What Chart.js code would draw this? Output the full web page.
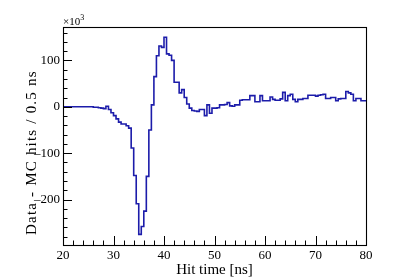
<!DOCTYPE html>
<html>
<head>
<meta charset="utf-8">
<script src="https://cdn.jsdelivr.net/npm/chart.js@4"></script>
<style>
  html, body { margin: 0; padding: 0; background: #fff; }
  #wrap { width: 407px; height: 279px; }
</style>
</head>
<body>
<div id="wrap"><canvas id="c" width="407" height="279"></canvas></div>
<script>
// Histogram: Data - MC hits per 0.5 ns bin (values in units of 10^3)
const binLow = 20;
const binWidth = 0.5;
const values = [
  0, 0, 0, 0, 0, 0, 0, 0, 0, 0,
  0, 0, 0, -1, -1, -2, -3, -4, 1, -6,
  -13, -19, -26, -33, -37, -37, -41, -46, -89, -148,
  -209, -275, -258, -225, -150, -50, 4, 65, 110, 131,
  128, 150, 114, 111, 100, 53, 53, 30, 37, 20,
  6, -3, -8, -9, -10, -6, -6, -19, 4, -14,
  -3, -3, -2, 4, 4, 5, 9, 2, 1, 4,
  4, 14, 15, 15, 15, 24, 24, 11, 11, 24,
  13, 13, 13, 21, 16, 14, 14, 17, 31, 13,
  24, 27, 16, 11, 16, 16, 18, 18, 25, 25,
  25, 23, 25, 26, 27, 18, 18, 20, 20, 13,
  17, 18, 18, 33, 30, 27, 13, 18, 18, 13
];
const xTickLabels = [20, 30, 40, 50, 60, 70, 80];
const yTickLabels = [-200, -100, 0, 100];
const xTitle = 'Hit time [ns]';
const yTitle = 'Data - MC hits / 0.5 ns';

const points = values.map((v, i) => ({ x: binLow + i * binWidth, y: v }));
points.push({ x: binLow + values.length * binWidth, y: values[values.length - 1] });

const serif = '"Liberation Serif", "DejaVu Serif", serif';

const rootStyle = {
  id: 'rootStyle',
  afterDraw(chart) {
    const { ctx, chartArea: a, scales: { x, y } } = chart;
    ctx.save();
    ctx.strokeStyle = '#000';
    ctx.lineWidth = 1;
    // inward ticks
    ctx.beginPath();
    for (let v = 20; v <= 80; v += 2) {
      const px = Math.round(x.getPixelForValue(v)) + 0.5;
      const len = (v % 10 === 0) ? 9 : 4.5;
      ctx.moveTo(px, a.bottom);
      ctx.lineTo(px, a.bottom - len);
    }
    for (let v = -280; v <= 160; v += 20) {
      const py = Math.round(y.getPixelForValue(v)) + 0.5;
      const len = (v % 100 === 0) ? 9 : 4.5;
      ctx.moveTo(a.left, py);
      ctx.lineTo(a.left + len, py);
    }
    ctx.stroke();
    // frame
    ctx.lineWidth = 1.1;
    ctx.strokeRect(a.left + 0.5, a.top + 0.5, a.width, a.height);
    // titles
    ctx.fillStyle = '#000';
    ctx.font = '15px ' + serif;
    ctx.textAlign = 'center';
    ctx.textBaseline = 'alphabetic';
    ctx.fillText(xTitle, (a.left + a.right) / 2, 274);
    ctx.save();
    ctx.translate(36, 235);
    ctx.rotate(-Math.PI / 2);
    ctx.textAlign = 'left';
    ctx.font = '15px ' + serif;
    ctx.letterSpacing = '1.2px';
    ctx.fillText(yTitle, 0, 0);
    ctx.restore();
    // exponent label
    ctx.textAlign = 'left';
    ctx.font = '11px ' + serif;
    ctx.fillText('\u00d710', a.left, 25);
    const w = ctx.measureText('\u00d710').width;
    ctx.font = '8px ' + serif;
    ctx.fillText('3', a.left + w, 20);
    ctx.restore();
  }
};

function fmt(v) {
  const n = Number(v);
  return n < 0 ? '\u2013' + String(-n) : String(n);
}

new Chart(document.getElementById('c'), {
  type: 'line',
  data: {
    datasets: [{
      data: points,
      stepped: 'after',
      borderColor: '#1c1caa',
      borderWidth: 1.6,
      pointRadius: 0,
      fill: false
    }]
  },
  options: {
    responsive: false,
    animation: false,
    events: [],
    layout: { padding: { left: 0, right: 41, top: 27, bottom: 0 } },
    plugins: { legend: { display: false }, tooltip: { enabled: false } },
    scales: {
      x: {
        type: 'linear',
        min: 20, max: 80,
        grid: { display: false, drawTicks: false },
        border: { display: false },
        afterBuildTicks: s => { s.ticks = xTickLabels.map(v => ({ value: v })); },
        afterFit: s => { s.height = 34; },
        ticks: {
          padding: 3,
          maxRotation: 0,
          color: '#000',
          font: { family: serif, size: 13 },
          callback: v => fmt(v)
        }
      },
      y: {
        type: 'linear',
        min: -298, max: 172,
        grid: { display: false, drawTicks: false },
        border: { display: false },
        afterBuildTicks: s => { s.ticks = yTickLabels.map(v => ({ value: v })); },
        afterFit: s => { s.width = 63; },
        ticks: {
          padding: 3,
          color: '#000',
          font: { family: serif, size: 13 },
          callback: v => fmt(v)
        }
      }
    }
  },
  plugins: [rootStyle]
});
</script>
</body>
</html>
